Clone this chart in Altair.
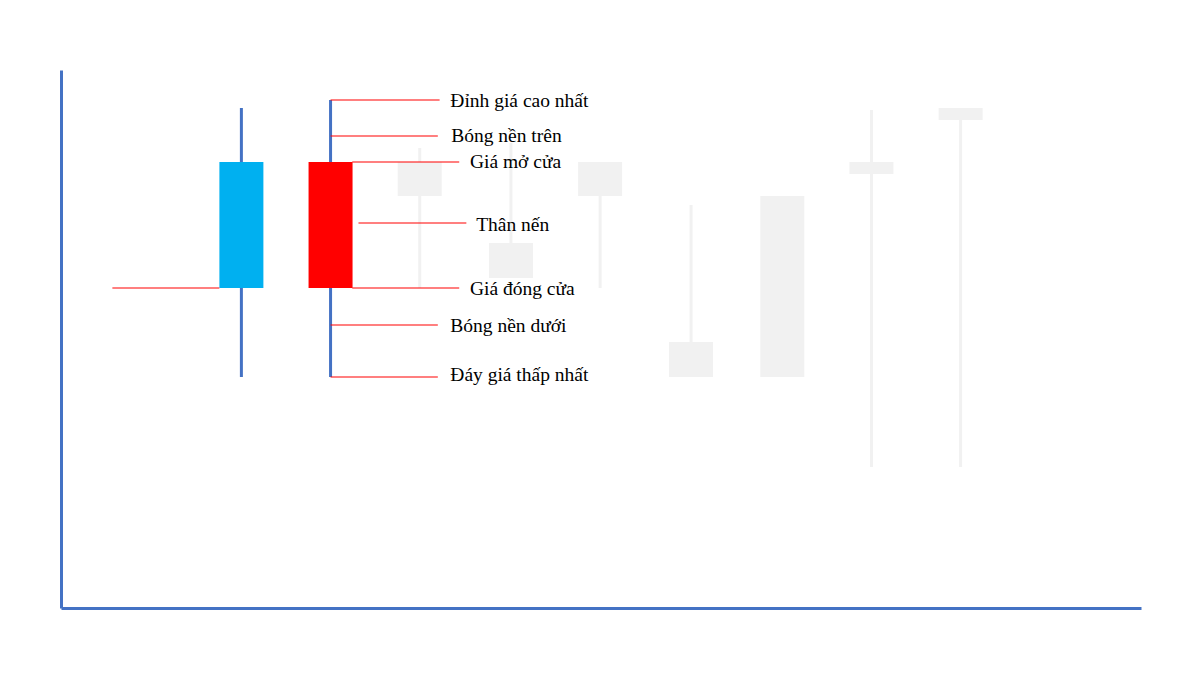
import altair as alt
import pandas as pd

# Candles (x position index, prices in chart units)
candle_x = [1.967, 2.967, 3.967, 4.99, 5.99, 7.01, 8.033, 9.033, 10.033]
high = [250, 254, 230, 232.5, 223, 201.5, 206, 249, 250]
low = [115.5, 115.5, 160, 165, 160, 115.5, 115.5, 70.5, 70.5]
open_ = [160, 223, 223, 182.5, 223, 133, 206, 223, 250]
close = [223, 160, 206, 165, 206, 115.5, 115.5, 217, 244]
body_color = ["#00B0F0", "#FF0000", "#F1F1F1", "#F1F1F1", "#F1F1F1",
              "#F1F1F1", "#F1F1F1", "#F1F1F1", "#F1F1F1"]
wick_color = ["#4472C4", "#4472C4", "#F1F1F1", "#F1F1F1", "#F1F1F1",
              "#F1F1F1", "#F1F1F1", "#F1F1F1", "#F1F1F1"]

# Annotation leader lines
ann_x1 = [2.967, 2.967, 3.21, 3.28, 3.21, 2.967, 2.967, 0.52]
ann_x2 = [4.19, 4.17, 4.41, 4.49, 4.41, 4.17, 4.17, 1.72]
ann_y = [254, 236, 223, 192.5, 160, 141.5, 115.5, 160]

# Annotation labels
labels = ["Đỉnh giá cao nhất", "Bóng nền trên", "Giá mở cửa", "Thân nến",
          "Giá đóng cửa", "Bóng nền dưới", "Đáy giá thấp nhất"]
label_x = [4.31, 4.32, 4.53, 4.60, 4.53, 4.31, 4.31]
label_y = [250.6, 233.0, 219.8, 188.7, 156.5, 138.2, 113.5]

candles = pd.DataFrame({"x": candle_x, "high": high, "low": low,
                        "open": open_, "close": close,
                        "bc": body_color, "wc": wick_color})
gray = candles[candles["bc"] == "#F1F1F1"]
main = candles[candles["bc"] != "#F1F1F1"]
lines = pd.DataFrame({"x1": ann_x1, "x2": ann_x2, "y": ann_y})
texts = pd.DataFrame({"label": labels, "x": label_x, "y": label_y})

xs = alt.Scale(domain=[0, 12], nice=False, zero=False)
ys = alt.Scale(domain=[0, 269], nice=False, zero=False)
xax = alt.Axis(domainColor="#4472C4", domainWidth=3, ticks=False, labels=False,
               grid=False, title=None)
yax = alt.Axis(domainColor="#4472C4", domainWidth=3, ticks=False, labels=False,
               grid=False, title=None)


def wicks(df):
    return alt.Chart(df).mark_rule(strokeWidth=3).encode(
        x=alt.X("x:Q", scale=xs, axis=xax),
        y=alt.Y("high:Q", scale=ys, axis=yax),
        y2="low:Q",
        color=alt.Color("wc:N", scale=None),
    )


def bodies(df):
    return alt.Chart(df).mark_bar(size=44).encode(
        x=alt.X("x:Q", scale=xs, axis=xax),
        y=alt.Y("open:Q", scale=ys, axis=yax),
        y2="close:Q",
        color=alt.Color("bc:N", scale=None),
    )


leader = alt.Chart(lines).mark_rule(color="#FF0000", strokeWidth=1.2).encode(
    x=alt.X("x1:Q", scale=xs, axis=xax),
    x2="x2:Q",
    y=alt.Y("y:Q", scale=ys, axis=yax),
)

text = alt.Chart(texts).mark_text(
    align="left", baseline="alphabetic", font="Liberation Serif",
    fontSize=19.5, color="#000000"
).encode(
    x=alt.X("x:Q", scale=xs, axis=xax),
    y=alt.Y("y:Q", scale=ys, axis=yax),
    text="label:N",
)

chart = alt.layer(
    wicks(gray), bodies(gray), wicks(main), bodies(main), leader, text
).properties(
    width=1080, height=538,
    autosize=alt.AutoSizeParams(type="none"),
    padding={"left": 53, "top": 62, "right": 51, "bottom": 59},
    background="white",
).configure_view(stroke=None)

chart.save("out.html", embed_options={"renderer": "svg", "actions": False})
